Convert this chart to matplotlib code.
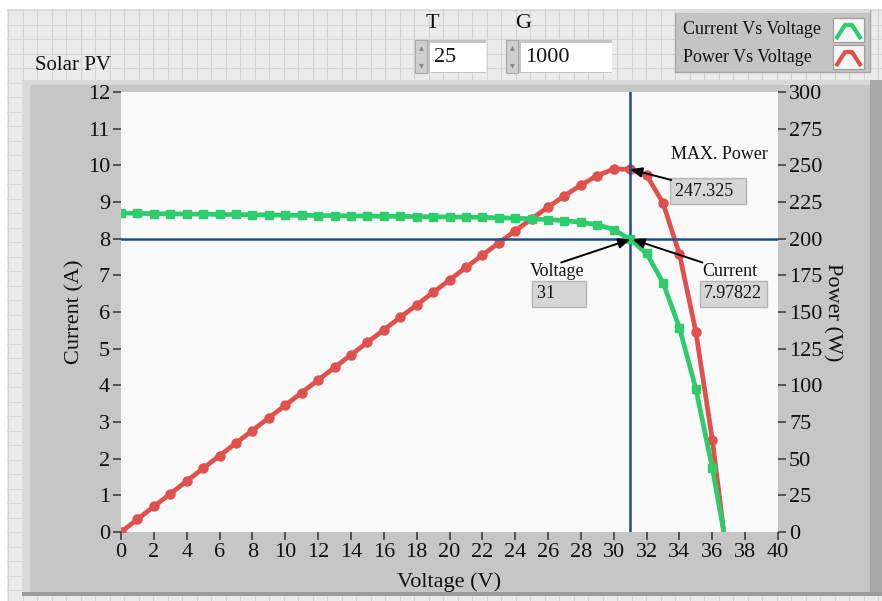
import matplotlib
matplotlib.use("Agg")
import matplotlib.pyplot as plt
from matplotlib.patches import Rectangle

plt.rcParams['font.family'] = ['Liberation Serif', 'DejaVu Serif']

# ---------------- data ----------------
voltage = [0, 1, 2, 3, 4, 5, 6, 7, 8, 9, 10, 11, 12, 13, 14, 15, 16, 17, 18, 19,
           20, 21, 22, 23, 24, 25, 26, 27, 28, 29, 30, 31, 32, 33, 34, 35, 36, 36.7]
current = [8.70, 8.69, 8.68, 8.68, 8.67, 8.67, 8.66, 8.66, 8.65, 8.65, 8.64, 8.64,
           8.63, 8.63, 8.62, 8.62, 8.61, 8.61, 8.60, 8.60, 8.59, 8.59, 8.58, 8.57,
           8.56, 8.54, 8.52, 8.49, 8.45, 8.38, 8.25, 7.978, 7.60, 6.80, 5.57, 3.90,
           1.75, 0.0]
power = [0.0, 8.7, 17.4, 26.0, 34.7, 43.4, 52.0, 60.6, 69.2, 77.9, 86.4, 95.0,
         103.6, 112.2, 120.7, 129.3, 137.8, 146.4, 154.8, 163.4, 171.8, 180.4,
         188.8, 197.1, 205.4, 213.5, 221.5, 229.2, 236.6, 243.0, 247.5, 247.325,
         243.2, 224.4, 189.4, 136.5, 63.0, 0.0]
cursor_v = 31
cursor_i = 7.97822
max_power = 247.325
T_value = "25"
G_value = "1000"
x_ticks = list(range(0, 41, 2))
left_ticks = list(range(0, 13))
right_ticks = list(range(0, 301, 25))

W, H = 882, 601
fig = plt.figure(figsize=(W / 100, H / 100), dpi=100)

# ---------------- panel background ----------------
bg = fig.add_axes([0, 0, 1, 1])
bg.set_xlim(0, W)
bg.set_ylim(H, 0)
bg.axis('off')
bg.add_patch(Rectangle((0, 0), W, H, facecolor='#ebebeb', edgecolor='none', zorder=0))
bg.add_patch(Rectangle((0, 0), W, 9, facecolor='white', edgecolor='none', zorder=0.8))
bg.add_patch(Rectangle((0, 0), 7, H, facecolor='white', edgecolor='none', zorder=0.8))
g = 8.0
while g < W:
    bg.plot([g, g], [9, H], color='#d4d4d4', lw=0.8, zorder=0.5)
    g += 14.5
g = 10.0
while g < H:
    bg.plot([7, W], [g, g], color='#d4d4d4', lw=0.8, zorder=0.5)
    g += 14.5

# graph frame
bg.add_patch(Rectangle((22, 80), W - 22, 516, facecolor='#c6c6c6', edgecolor='none', zorder=1))
bg.add_patch(Rectangle((22, 80), 8, 516, facecolor='#dadada', edgecolor='none', zorder=1))
bg.add_patch(Rectangle((22, 80), W - 22, 5, facecolor='#d8d8d8', edgecolor='none', zorder=1))
bg.add_patch(Rectangle((870, 80), 12, 516, facecolor='#a8a8a8', edgecolor='none', zorder=1))
bg.add_patch(Rectangle((22, 592), W - 22, 4, facecolor='#9c9c9c', edgecolor='none', zorder=1))

bg.text(35, 66, "Solar PV", fontsize=15, ha='left', va='center', color='#111111')

# T and G controls
for lab, val, x0, x1, lx in [("T", T_value, 428, 486, 432), ("G", G_value, 519, 612, 523)]:
    bg.text(lx, 24, lab, fontsize=16, ha='center', va='center', color='#111111', zorder=3)
    bg.add_patch(Rectangle((x0 - 13, 40), 12, 33, facecolor='#cfcfcf', edgecolor='#a8a8a8',
                           lw=0.8, zorder=2))
    bg.add_patch(Rectangle((x0, 40), x1 - x0, 33, facecolor='#c4c4c4', edgecolor='none', zorder=2))
    bg.add_patch(Rectangle((x0 + 2, 43), x1 - x0 - 2, 29, facecolor='white', edgecolor='none',
                           zorder=2))
    bg.text(x0 + 6, 58, val, fontsize=16, ha='left', va='center', color='#111111', zorder=3)
    bg.text(x0 - 7, 48, "\u25B4", fontsize=7, ha='center', va='center', color='#888888', zorder=3)
    bg.text(x0 - 7, 66, "\u25BE", fontsize=7, ha='center', va='center', color='#888888', zorder=3)

# legend
bg.add_patch(Rectangle((675, 10), 195, 62, facecolor='#c4c4c4', edgecolor='#a8a8a8', lw=1,
                       zorder=2))
bg.add_patch(Rectangle((675, 10), 195, 3, facecolor='#dcdcdc', edgecolor='none', zorder=2))
for yy, txt, col in [(30, "Current Vs Voltage", '#2ecc6a'), (57, "Power Vs Voltage", '#e0504c')]:
    bg.text(683, yy, txt, fontsize=13, ha='left', va='center', color='#111111', zorder=3)
    bg.add_patch(Rectangle((833, yy - 12), 31, 24, facecolor='#f6f6f6', edgecolor='#9a9a9a',
                           lw=0.8, zorder=2))
    bg.plot([836, 845, 852, 861], [yy + 9, yy - 5, yy - 5, yy + 9], color=col, lw=3,
            solid_capstyle='butt', zorder=3)

# ---------------- chart ----------------
L, R, T_, B = 121, 778, 92, 532
bg.add_patch(Rectangle((L, T_), R - L, B - T_, facecolor='#fafafa', edgecolor='none', zorder=2))
ax = fig.add_axes([L / W, (H - B) / H, (R - L) / W, (B - T_) / H])
ax.set_xlim(0, 40)
ax.set_ylim(0, 12)
ax2 = ax.twinx()
ax2.set_ylim(0, 300)

green = '#2ecc6a'
red = '#e0504c'
mk = list(range(len(voltage) - 1))
ax2.plot(voltage, power, color=red, lw=3.4, marker='o', ms=6.5, markevery=mk, zorder=3)
ax.plot(voltage, current, color=green, lw=3.4, marker='s', ms=6.0, markevery=mk, zorder=3)
ax.set_zorder(ax2.get_zorder() + 1)
ax.patch.set_visible(False)
ax2.patch.set_visible(False)

blue = '#1d4f8e'
ax.axvline(cursor_v, color=blue, lw=1.8, zorder=2)
ax.axhline(cursor_i, color=blue, lw=1.8, zorder=2)

for a in (ax, ax2):
    for s in a.spines.values():
        s.set_visible(False)

ax.set_xticks(x_ticks)
ax.set_yticks(left_ticks)
ax2.set_yticks(right_ticks)
ax.tick_params(axis='both', direction='out', length=6, width=1.1, color='#333333',
               labelsize=16, pad=2, labelcolor='#111111')
ax2.tick_params(axis='y', direction='out', length=6, width=1.1, color='#333333',
                labelsize=16, pad=2, labelcolor='#111111')
ax.set_xlabel("Voltage (V)", fontsize=16, color='#111111', labelpad=7)
ax.set_ylabel("Current (A)", fontsize=16, color='#111111', labelpad=2)
ax2.set_ylabel("Power (W)", fontsize=16, color='#111111', rotation=270, labelpad=14)

# annotations
boxkw = dict(boxstyle='square,pad=0.25', facecolor='#d6d6d6', edgecolor='#b4b4b4', lw=1)
arrowkw = dict(arrowstyle='-|>,head_length=0.7,head_width=0.3', color='black', lw=1.4,
               shrinkA=0, shrinkB=0)

ax.text(33.5, 10.3, "MAX. Power", fontsize=13, ha='left', va='center', color='#111111')
ax.text(33.7, 9.3, f"{max_power}  ", fontsize=13, ha='left', va='center', color='#111111',
        bbox=boxkw)
ax.annotate("", xy=(cursor_v, max_power / 25), xytext=(33.5, 9.6), arrowprops=arrowkw)

ax.text(24.9, 7.1, "Voltage", fontsize=13, ha='left', va='center', color='#111111')
ax.text(25.3, 6.5, f"{cursor_v}      ", fontsize=13, ha='left', va='center', color='#111111',
        bbox=boxkw)
ax.annotate("", xy=(cursor_v, cursor_i), xytext=(26.8, 7.35), arrowprops=arrowkw)

ax.text(35.4, 7.1, "Current", fontsize=13, ha='left', va='center', color='#111111')
ax.text(35.5, 6.5, f"{cursor_i}", fontsize=13, ha='left', va='center', color='#111111',
        bbox=boxkw)
ax.annotate("", xy=(cursor_v + 0.15, cursor_i), xytext=(35.4, 7.35), arrowprops=arrowkw)

fig.savefig("out.png", dpi=100)
